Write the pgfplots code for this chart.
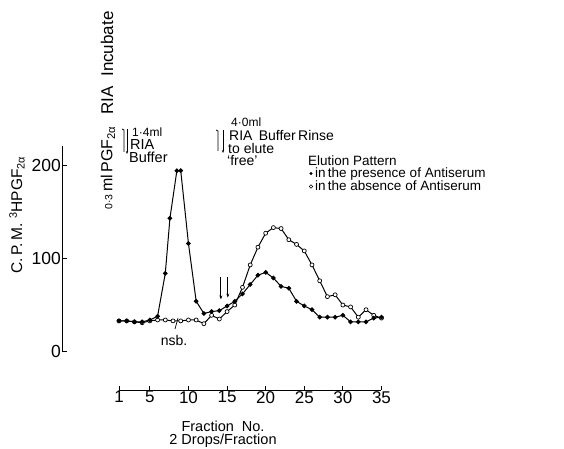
\documentclass[border=0pt]{standalone}
\usepackage{fontspec}
\setmainfont{Liberation Sans}
\usepackage{pgfplots}
\pgfplotsset{compat=1.18}
\usetikzlibrary{arrows.meta}
\pgfplotstableread{
x y
1 33
2 33
3 32
4 32
5 34
6 38
7 84
7.6 143
8.5 194
9 194
10 116
11 54
12 41
13 43
14 44
15 49
16 54
17 62
18 72
19 82
20 85
21 79
22 70
23 68
24 54
25 49
26 45
27 37
28 37
29 37
30 39
31 32
32 32
33 32
34 36
35 37
}\presence
\pgfplotstableread{
x y
1 33
2 33
3 32
4 31
5 33
6 34
7 34
8 33
9 33
10 34
11 34
12 30
13 39
14 35
15 43
16 50
17 69
18 93
19 112
20 127
21 133
22 132
23 120
24 115
25 108
26 93
27 76
28 59
29 61
30 50
31 48
32 37
33 45
34 39
35 36
}\absence
\begin{document}
\begin{tikzpicture}
\useasboundingbox (0,0) rectangle (564pt,449pt);
\begin{axis}[
  at={(62pt,97.3pt)}, anchor=south west,
  x=7.72pt, y=0.933pt,
  xmin=-6.38, xmax=37, ymin=0, ymax=220.5,
  axis x line=none, axis y line=left,
  axis line style={-, line width=0.9pt},
  ytick={0,100,200}, tick align=inside, major tick length=5pt,
  tick style={line width=0.9pt, black},
  yticklabel style={font=\fontsize{17.5}{17.5}\selectfont, inner sep=1pt},
  /pgf/number format/assume math mode=true,
  clip=false,
]
\addplot[black, line width=1pt, mark=*, mark size=2pt, mark options={fill=white, line width=0.7pt}] table[x=x,y=y] {\absence};
\addplot[black, line width=1pt, mark=*, mark size=1.8pt] table[x=x,y=y] {\presence};
\draw[-{Stealth[length=4pt]}, line width=0.8pt] (axis cs:14.2,80) -- (axis cs:14.2,56);
\draw[-{Stealth[length=4pt]}, line width=0.8pt] (axis cs:15.1,80) -- (axis cs:15.1,58);
\end{axis}
\begin{axis}[
  at={(119pt,59pt)}, anchor=south west,
  x=7.72pt, y=1pt, xmin=1, xmax=35, ymin=0, ymax=1,
  axis y line=none, axis x line=bottom,
  axis line style={-, line width=0.9pt},
  xtick={1,5,10,15,20,25,30,35}, tick align=inside, major tick length=4pt,
  tick style={line width=0.9pt, black},
  xticklabel style={font=\fontsize{17}{17}\selectfont, inner sep=1pt},
  /pgf/number format/assume math mode=true,
]
\addplot[draw=none] coordinates {(1,0)};
\end{axis}
\begin{scope}[x=1pt, y=-1pt, shift={(0,449pt)}]
  % y label
  \node[rotate=90, font=\fontsize{15.5}{15.5}\selectfont] at (17,215) {C.\,P.\,M.\ \textsuperscript{3}HPGF\textsubscript{2α}};
  % x labels
  \node[anchor=base, inner sep=0pt, font=\fontsize{14.5}{14.5}\selectfont] at (223,432) {Fraction\ \ No.};
  \node[anchor=base, inner sep=0pt, font=\fontsize{14.5}{14.5}\selectfont] at (223,445) {2 Drops/Fraction};
  % left annotations
  \node[rotate=90, inner sep=0pt, font=\fontsize{17}{17}\selectfont] at (107,63) {RIA\ \ Incubate};
  \node[rotate=90, inner sep=0pt, font=\fontsize{16}{16}\selectfont] at (108,168) {{\fontsize{10.5}{10.5}\selectfont 0·3}\,ml\,PGF\textsubscript{2α}};
  \draw[line width=0.7pt] (122,129) -- (124,130) -- (124,152);
  \draw[-{Stealth[length=3pt]}, line width=0.7pt] (127,129) -- (127,154);
  \node[anchor=base west, inner sep=0pt, font=\fontsize{12}{12}\selectfont] at (132,137) {1·4ml};
  \node[anchor=base west, inner sep=0pt, font=\fontsize{14.5}{14.5}\selectfont] at (130,150) {RIA};
  \node[anchor=base west, inner sep=0pt, font=\fontsize{14.5}{14.5}\selectfont] at (129,163) {Buffer};
  % right annotations
  \draw[line width=0.7pt] (216,130) -- (218,131) -- (218,151);
  \draw[-{Stealth[length=3pt]}, line width=0.7pt] (223,130) -- (223,153);
  \node[anchor=base west, inner sep=0pt, font=\fontsize{12}{12}\selectfont] at (231,127) {4·0ml};
  \node[anchor=base west, inner sep=0pt, font=\fontsize{14}{14}\selectfont] at (229,141) {RIA\ \,Buffer\,Rinse};
  \node[anchor=base west, inner sep=0pt, font=\fontsize{14}{14}\selectfont] at (228,153.5) {to elute};
  \node[anchor=base west, inner sep=0pt, font=\fontsize{14}{14}\selectfont] at (227,166) {`free'};
  % legend
  \fill (311,173.5) circle (1.7pt);
  \draw[line width=0.6pt] (311,186.5) circle (1.8pt);
  \node[anchor=base west, inner sep=0pt, font=\fontsize{13.5}{13.5}\selectfont] at (308,165.3) {Elution Pattern};
  \node[anchor=base west, inner sep=0pt, font=\fontsize{13.5}{13.5}\selectfont] at (315,178) {in\,the presence of Antiserum};
  \node[anchor=base west, inner sep=0pt, font=\fontsize{13.5}{13.5}\selectfont] at (315,190.7) {in\,the absence of Antiserum};
  % nsb
  \draw[line width=0.7pt] (178,318) -- (175,329);
  \node[inner sep=0pt, font=\fontsize{14}{14}\selectfont] at (174,340) {nsb.};
\end{scope}
\end{tikzpicture}
\end{document}
